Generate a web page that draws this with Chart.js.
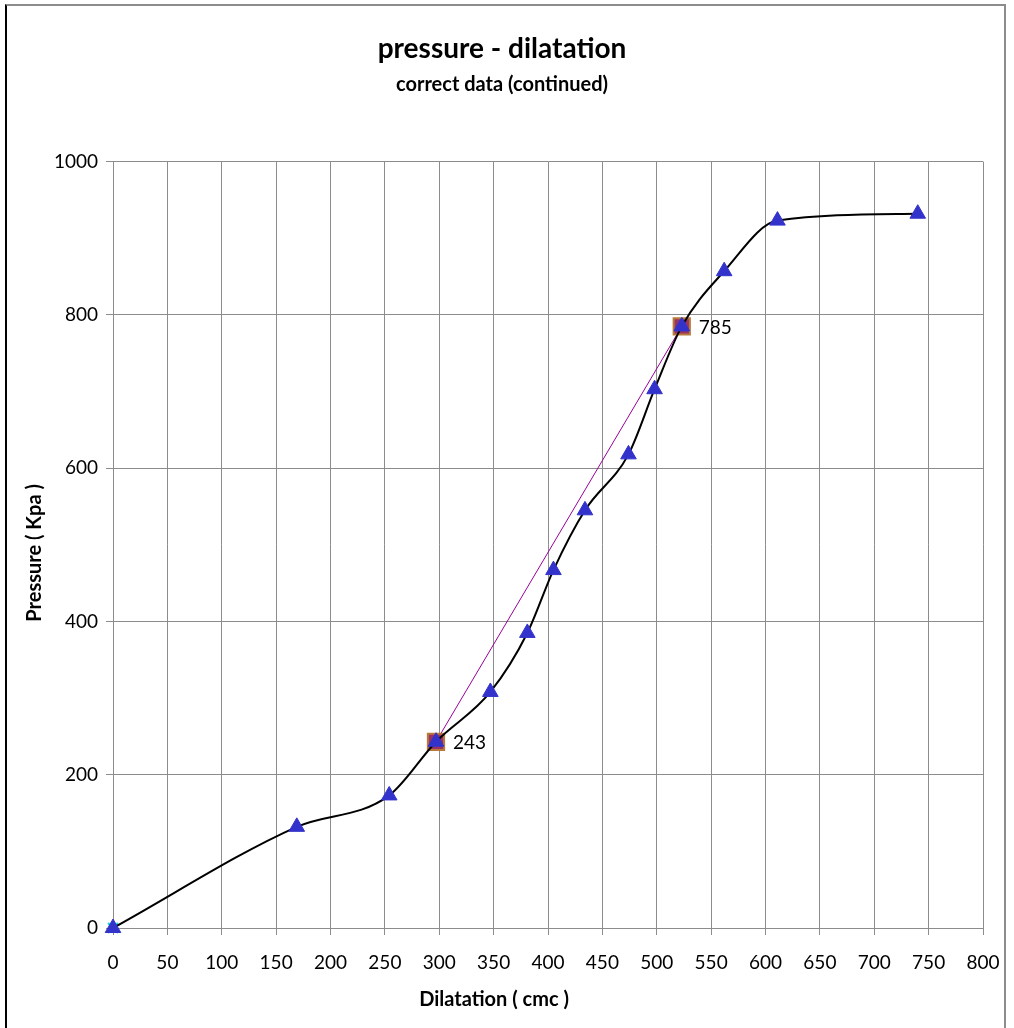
<!DOCTYPE html>
<html>
<head>
<meta charset="utf-8">
<script src="https://cdn.jsdelivr.net/npm/chart.js@4"></script>
<style>
  html, body { margin: 0; padding: 0; background: #fff; }
  #wrap { position: relative; width: 1014px; height: 1028px; }
  #frame { position: absolute; left: 5px; top: 4px; width: 997px; height: 1040px;
           border-left: 2px solid #000; border-top: 2px solid #8c8c8c; border-right: 2px solid #8c8c8c; pointer-events: none; }
  canvas { position: absolute; left: 0; top: 0; }
</style>
</head>
<body>
<div id="wrap">
  <canvas id="c" width="1014" height="1028"></canvas>
  <div id="frame"></div>
</div>
<script>
// ---- data ----
const dilatation = [0, 169, 254, 297, 347, 381, 405, 434, 474, 498, 523, 562, 611, 740];
const pressure   = [0, 132, 173, 243, 308, 385, 467, 545, 618, 703, 785, 857, 923, 932];
const markX = [297, 523];
const markY = [243, 785];
const originX = [0];
const originY = [0];
const xTicks = [0, 50, 100, 150, 200, 250, 300, 350, 400, 450, 500, 550, 600, 650, 700, 750, 800];
const yTicks = [0, 200, 400, 600, 800, 1000];
const chartTitle = 'pressure - dilatation';
const chartSubtitle = 'correct data (continued)';
const xTitle = 'Dilatation ( cmc )';
const yTitle = 'Pressure ( Kpa )';

const toPts = (xs, ys) => xs.map((x, i) => ({ x: x, y: ys[i] }));
const FONT = 'Lato, "Open Sans", sans-serif';

const labelPlugin = {
  id: 'markLabels',
  afterDatasetsDraw(chart) {
    const meta = chart.getDatasetMeta(1);
    const ctx = chart.ctx;
    ctx.save();
    ctx.font = '19px ' + FONT;
    ctx.fillStyle = '#000';
    ctx.textAlign = 'left';
    ctx.textBaseline = 'middle';
    meta.data.forEach((el, i) => {
      ctx.fillText(String(markY[i]), el.x + 17, el.y + 1);
    });
    ctx.restore();
  }
};

// axis titles placed like the original (slightly off-centre)
const axisTitlePlugin = {
  id: 'axisTitles',
  afterDraw(chart) {
    const ctx = chart.ctx;
    const a = chart.chartArea;
    ctx.save();
    ctx.font = 'bold 20px ' + FONT;
    ctx.fillStyle = '#000';
    ctx.textAlign = 'center';
    ctx.textBaseline = 'middle';
    ctx.fillText(xTitle, a.left + (a.right - a.left) * 0.438, chart.height - 28);
    ctx.translate(35, a.top + (a.bottom - a.top) * 0.5105);
    ctx.rotate(-Math.PI / 2);
    ctx.fillText(yTitle, 0, 0);
    ctx.restore();
  }
};

new Chart(document.getElementById('c'), {
  type: 'scatter',
  data: {
    datasets: [
      {
        label: 'pressure',
        data: toPts(dilatation, pressure),
        showLine: true,
        borderColor: '#000',
        borderWidth: 2,
        cubicInterpolationMode: 'monotone',
        pointStyle: 'triangle',
        pointRadius: 9,
        pointBackgroundColor: '#3333cc',
        pointBorderColor: '#3333cc',
        pointBorderWidth: 1,
        clip: false,
        order: 0
      },
      {
        label: 'marks',
        data: toPts(markX, markY),
        showLine: false,
        pointStyle: 'rect',
        pointRadius: 11.5,
        pointBackgroundColor: '#993366',
        pointBorderColor: '#b87a3c',
        pointBorderWidth: 2,
        clip: false,
        order: 1
      },
      {
        label: 'chord',
        data: toPts(markX, markY),
        showLine: true,
        borderColor: '#990099',
        borderWidth: 1,
        pointRadius: 0,
        tension: 0,
        order: 2
      },
      {
        label: 'origin',
        data: toPts(originX, originY),
        showLine: false,
        pointStyle: 'crossRot',
        pointRadius: 7,
        pointBorderColor: '#00e0e0',
        pointBorderWidth: 2,
        clip: false,
        order: 3
      }
    ]
  },
  options: {
    responsive: false,
    animation: false,
    events: [],
    layout: { padding: { left: 21, right: 31, top: 0, bottom: 0 } },
    plugins: {
      legend: { display: false },
      tooltip: { enabled: false },
      title: {
        display: true, text: chartTitle, color: '#000',
        font: { family: FONT, size: 28, weight: 'bold' },
        padding: { top: 32, bottom: 7 }
      },
      subtitle: {
        display: true, text: chartSubtitle, color: '#000',
        font: { family: FONT, size: 20, weight: 'bold' },
        padding: { top: 0, bottom: 65 }
      }
    },
    scales: {
      x: {
        type: 'linear', min: 0, max: 800,
        afterBuildTicks(s) { s.ticks = xTicks.map(v => ({ value: v })); },
        afterFit(s) { s.height = 100; s.paddingLeft = 0; s.paddingRight = 0; },
        grid: { color: '#8c8c8c', lineWidth: 1, tickLength: 7, drawTicks: true },
        border: { color: '#8c8c8c', width: 1 },
        ticks: { color: '#000', font: { family: FONT, size: 19 }, padding: 16, maxRotation: 0, autoSkip: false,
                 callback: v => String(v) },
        title: { display: false }
      },
      y: {
        type: 'linear', min: 0, max: 1000,
        afterBuildTicks(s) { s.ticks = yTicks.map(v => ({ value: v })); },
        afterFit(s) { s.width = 92; s.paddingTop = 0; s.paddingBottom = 0; },
        grid: { color: '#8c8c8c', lineWidth: 1, tickLength: 7, drawTicks: true },
        border: { color: '#8c8c8c', width: 1 },
        ticks: { color: '#000', font: { family: FONT, size: 19 }, padding: 8, callback: v => String(v) },
        title: { display: false }
      }
    }
  },
  plugins: [labelPlugin, axisTitlePlugin]
});
</script>
</body>
</html>
